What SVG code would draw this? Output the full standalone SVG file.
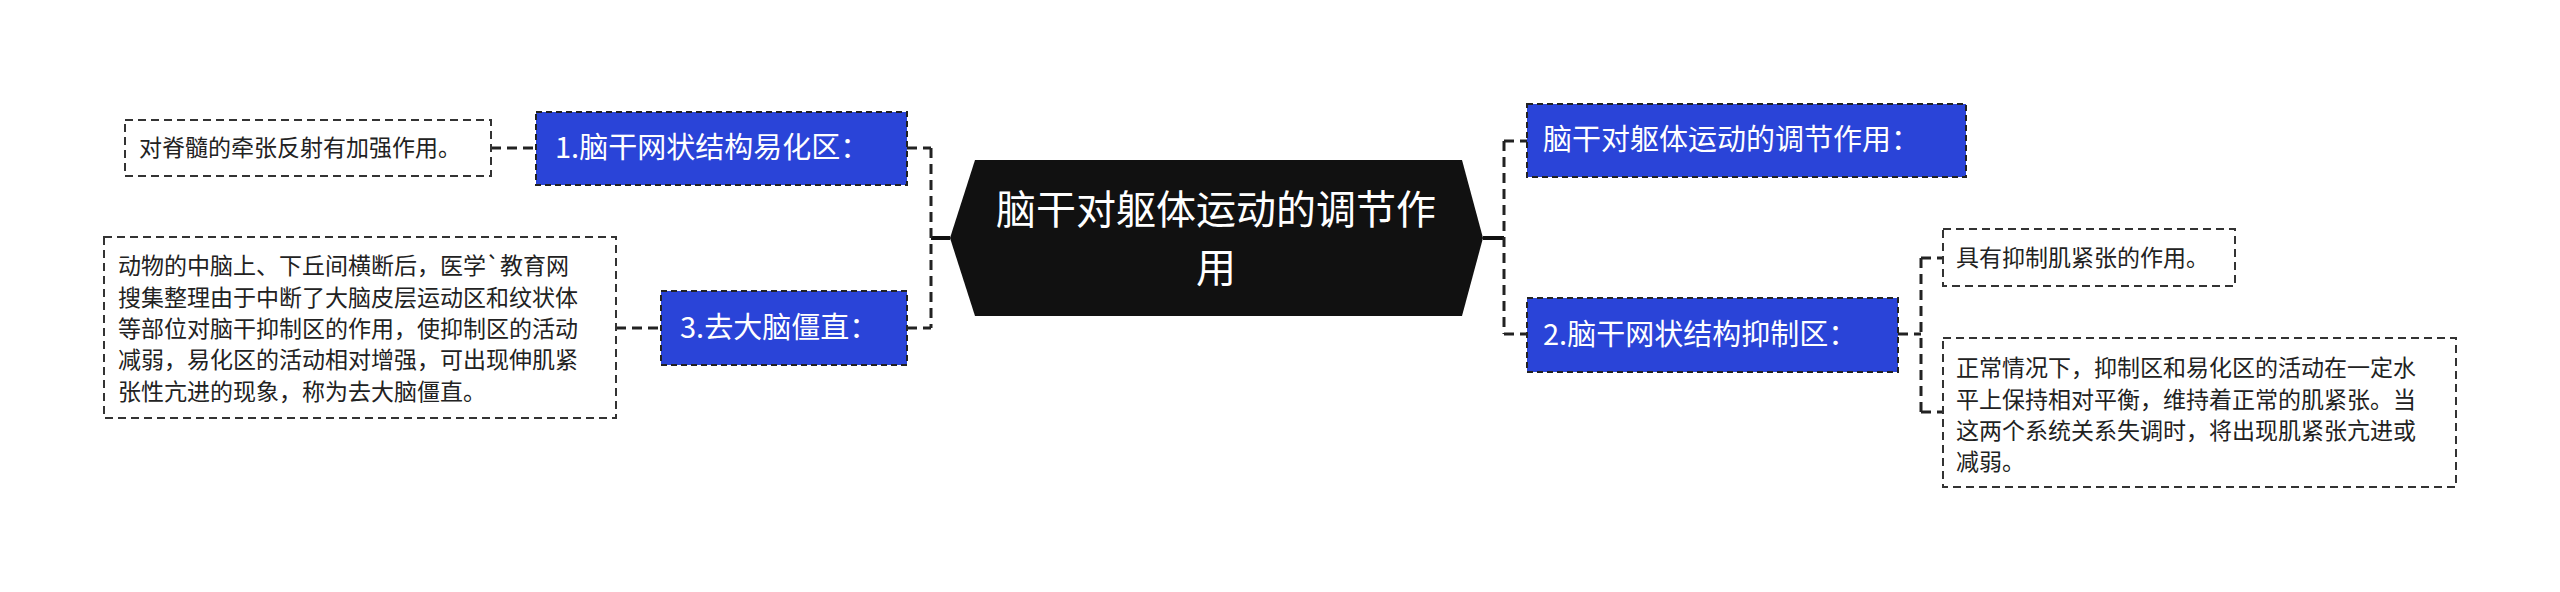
<svg xmlns="http://www.w3.org/2000/svg" width="2560" height="592" viewBox="0 0 2560 592">
<style>
text{font-family:"Noto Sans CJK SC","Noto Sans",sans-serif}
.main{fill:#2a44d8;stroke:#222;stroke-width:2;stroke-dasharray:6 4}
.leaf{fill:#fff;stroke:#333;stroke-width:2;stroke-dasharray:8 5}
.mt{fill:#fff;font-size:29px}
.lt{fill:#222;font-size:23px}
.c{fill:none;stroke:#222;stroke-width:3;stroke-dasharray:10 6}
</style>
<rect width="2560" height="592" fill="#fff"/>
<g id="connectors">
<path d="M950 238H931" stroke="#111" stroke-width="4" fill="none"/>
<path class="c" d="M931 148V328M907 148H931M907 328H931"/>
<path class="c" d="M491 148H536M616 328H661"/>
<path d="M1483 238H1504" stroke="#111" stroke-width="4" fill="none"/>
<path class="c" d="M1504 141V334M1504 141H1527M1504 334H1527"/>
<path class="c" d="M1898 334H1921M1921 258V412M1921 258H1943M1921 412H1943" stroke-width="2"/>
</g>
<g id="center">
<polygon points="950,238 975,160 1462,160 1483,238 1462,316 975,316" fill="#111"/>
<text x="1216" y="224" text-anchor="middle" fill="#fff" font-size="40">脑干对躯体运动的调节作</text>
<text x="1216" y="282" text-anchor="middle" fill="#fff" font-size="40">用</text>
</g>
<g id="n1"><rect class="main" x="536" y="112" width="371" height="73"/><text class="mt" x="555" y="158">1.脑干网状结构易化区：</text></g>
<g id="l1"><rect class="leaf" x="125" y="120" width="366" height="56"/><text class="lt" x="139" y="156">对脊髓的牵张反射有加强作用。</text></g>
<g id="n3"><rect class="main" x="661" y="291" width="246" height="74"/><text class="mt" x="680" y="338">3.去大脑僵直：</text></g>
<g id="l3"><rect class="leaf" x="104" y="237" width="512" height="181"/>
<text class="lt" x="118"><tspan x="118" y="274">动物的中脑上、下丘间横断后，医学`教育网</tspan><tspan x="118" y="306">搜集整理由于中断了大脑皮层运动区和纹状体</tspan><tspan x="118" y="337">等部位对脑干抑制区的作用，使抑制区的活动</tspan><tspan x="118" y="368">减弱，易化区的活动相对增强，可出现伸肌紧</tspan><tspan x="118" y="400">张性亢进的现象，称为去大脑僵直。</tspan></text></g>
<g id="n0"><rect class="main" x="1527" y="104" width="439" height="73"/><text class="mt" x="1543" y="150">脑干对躯体运动的调节作用：</text></g>
<g id="n2"><rect class="main" x="1527" y="298" width="371" height="74"/><text class="mt" x="1543" y="345">2.脑干网状结构抑制区：</text></g>
<g id="l2a"><rect class="leaf" x="1943" y="229" width="292" height="57"/><text class="lt" x="1956" y="266">具有抑制肌紧张的作用。</text></g>
<g id="l2b"><rect class="leaf" x="1943" y="338" width="513" height="149"/>
<text class="lt"><tspan x="1956" y="376">正常情况下，抑制区和易化区的活动在一定水</tspan><tspan x="1956" y="408">平上保持相对平衡，维持着正常的肌紧张。当</tspan><tspan x="1956" y="439">这两个系统关系失调时，将出现肌紧张亢进或</tspan><tspan x="1956" y="470">减弱。</tspan></text></g>
</svg>
